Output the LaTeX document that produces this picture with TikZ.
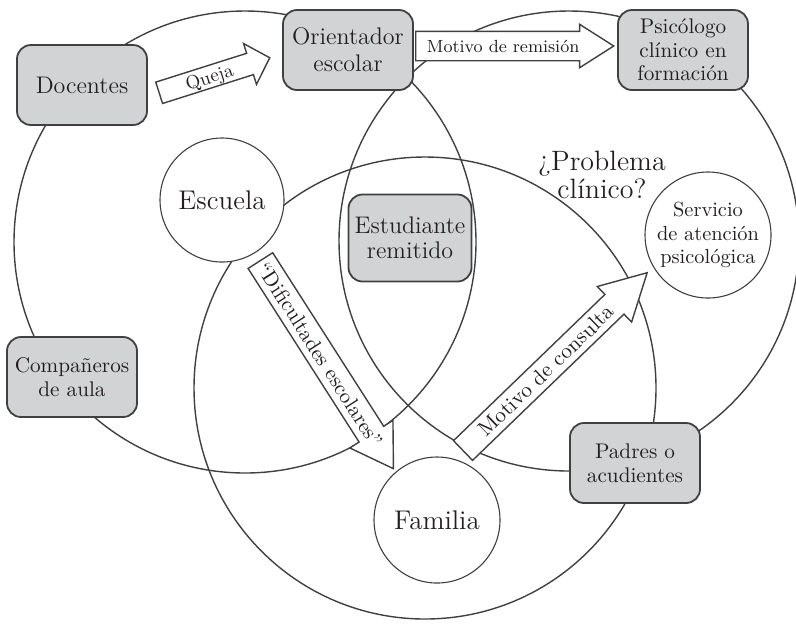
\documentclass[tikz,border=0pt]{standalone}
\usepackage{fontspec}
\usetikzlibrary{shapes.arrows}
\definecolor{trazo}{RGB}{64,64,64}
\definecolor{relleno}{RGB}{210,211,213}
\definecolor{tinta}{RGB}{35,31,32}
\begin{document}
\begin{tikzpicture}[
			x=0.5pt, y=-0.5pt,
			ambito/.style={draw=trazo, line width=0.7pt},
			actor/.style={draw=trazo, line width=0.9pt, fill=relleno, rounded corners=7pt,
					minimum width=65pt, minimum height=40pt, align=center, inner sep=2pt, text=tinta},
			sistema/.style={circle, draw=trazo, line width=0.55pt, fill=white, align=center,
					inner sep=0pt, text=tinta},
			flecha/.style={single arrow, draw=trazo, line width=0.7pt, fill=white, anchor=tail,
					inner xsep=1pt, inner ysep=0pt, text=tinta}
		]
		\useasboundingbox (0,0) rectangle (796,623);
		% escuela, psicologia, familia
		\draw[ambito] (245,242) circle[radius=115.5pt];
		\draw[ambito] (569,241) circle[radius=115pt];
		\draw[ambito] (425,388) circle[radius=115.5pt];
		\node[sistema, minimum size=62pt, font=\fontsize{13.5}{14}\selectfont] (escuela) at (222,200) {Escuela};
		\node[sistema, minimum size=63pt, font=\fontsize{13.5}{14}\selectfont] (familia) at (437,520) {Familia};
		\node[sistema, minimum size=63pt, font=\fontsize{10.2}{11.75}\selectfont] (servicio) at (708,235) {Servicio\\de atención\\psicológica};
		\node[text=tinta, align=center, inner sep=0pt, font=\fontsize{14}{12.5}\selectfont] (problema) at (602,175) {¿Problema\\clínico?};
		% actores
		\node[actor, font=\fontsize{12}{13.5}\selectfont] (docentes) at (82,85) {Docentes};
		\node[actor, font=\fontsize{12}{13.5}\selectfont] (orientador) at (348,50) {Orientador\\escolar};
		\node[actor, font=\fontsize{10.6}{11.75}\selectfont] (psicologo) at (683,50) {Psicólogo\\clínico en\\formación};
		\node[actor, font=\fontsize{12}{12.5}\selectfont, minimum width=61.5pt, minimum height=43.5pt] (estudiante) at (410,238) {Estudiante\\remitido};
		\node[actor, font=\fontsize{10.6}{11.75}\selectfont] (companeros) at (72,377) {Compañeros\\de aula};
		\node[actor, font=\fontsize{10.6}{12}\selectfont] (padres) at (635,463) {Padres o\\acudientes};
		% flechas
		\node[flecha, font=\fontsize{9.5}{9.5}\selectfont, text height=8.5pt, text depth=2pt,
			single arrow head extend=5.1pt, single arrow tip angle=92, minimum height=58pt,
			rotate=17.6] (queja) at (158.5,93) {Queja};
		\node[flecha, font=\fontsize{8.8}{8.8}\selectfont, text height=10pt, text depth=4pt,
			single arrow head extend=3.5pt, single arrow tip angle=65, minimum height=99pt]
			(remision) at (415,46) {Motivo de remisión};
		\node[flecha, font=\fontsize{10.5}{10.5}\selectfont, text height=10.6pt, text depth=3.3pt,
			single arrow head extend=5.5pt, single arrow tip angle=64, minimum height=123.5pt,
			rotate=-57.4] (dificultades) at (260,260) {“Dificultades escolares”};
		\node[flecha, font=\fontsize{10.7}{10.7}\selectfont, text height=10.2pt, text depth=2.8pt,
			single arrow head extend=5.5pt, single arrow tip angle=57, minimum height=128pt,
			rotate=44] (consulta) at (462.5,451) {Motivo de consulta};
	\end{tikzpicture}
\end{document}
